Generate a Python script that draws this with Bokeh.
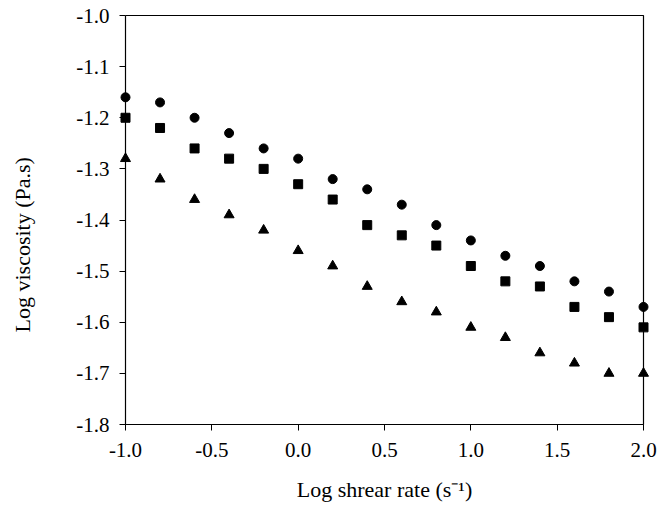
from bokeh.plotting import figure
from bokeh.models import FixedTicker, NumeralTickFormatter, Range1d
from bokeh.embed import file_html
from bokeh.resources import INLINE

# Log shear rate (s^-1)
log_shear = [-1.0, -0.8, -0.6, -0.4, -0.2, 0.0, 0.2, 0.4, 0.6, 0.8,
             1.0, 1.2, 1.4, 1.6, 1.8, 2.0]

# Log viscosity (Pa.s) for the three samples
visc_circle = [-1.16, -1.17, -1.20, -1.23, -1.26, -1.28, -1.32, -1.34, -1.37, -1.41,
               -1.44, -1.47, -1.49, -1.52, -1.54, -1.57]
visc_square = [-1.20, -1.22, -1.26, -1.28, -1.30, -1.33, -1.36, -1.41, -1.43, -1.45,
               -1.49, -1.52, -1.53, -1.57, -1.59, -1.61]
visc_triangle = [-1.28, -1.32, -1.36, -1.39, -1.42, -1.46, -1.49, -1.53, -1.56, -1.58,
                 -1.61, -1.63, -1.66, -1.68, -1.70, -1.70]

x_ticks = [-1.0, -0.5, 0.0, 0.5, 1.0, 1.5, 2.0]
y_ticks = [-1.8, -1.7, -1.6, -1.5, -1.4, -1.3, -1.2, -1.1, -1.0]

X_MIN, X_MAX = -1.0, 2.0
Y_MIN, Y_MAX = -1.8, -1.0
# the frame reaches one tick length past the plot box, so that edge markers
# are not cut off; the ticks then run inward from the frame edge to the box
TICK = 6
X_PAD = TICK * (X_MAX - X_MIN) / 518
Y_PAD = TICK * (Y_MAX - Y_MIN) / 409

FONT = "Liberation Serif"

p = figure(width=657, height=507, output_backend="svg", toolbar_location=None,
           x_range=Range1d(X_MIN - X_PAD, X_MAX + X_PAD),
           y_range=Range1d(Y_MIN - Y_PAD, Y_MAX + Y_PAD),
           min_border_left=119, min_border_right=8, min_border_top=9,
           min_border_bottom=77)

p.xgrid.visible = False
p.ygrid.visible = False
p.outline_line_color = None
p.background_fill_color = "white"
p.border_fill_color = "white"

# plot box
p.line([X_MIN, X_MAX, X_MAX, X_MIN, X_MIN], [Y_MAX, Y_MAX, Y_MIN, Y_MIN, Y_MAX],
       line_color="black", line_width=1.2)

p.scatter(log_shear, visc_circle, marker="circle", size=9,
          fill_color="black", line_color="black")
p.scatter(log_shear, visc_square, marker="square", size=9,
          fill_color="black", line_color="black")
p.scatter(log_shear, visc_triangle, marker="triangle", size=10,
          fill_color="black", line_color="black")

p.xaxis.ticker = FixedTicker(ticks=x_ticks)
p.yaxis.ticker = FixedTicker(ticks=y_ticks)
p.xaxis.formatter = NumeralTickFormatter(format="0.0")
p.yaxis.formatter = NumeralTickFormatter(format="0.0")

for ax in (p.xaxis, p.yaxis):
    ax.axis_line_color = None
    ax.major_tick_line_color = "black"
    ax.major_tick_in = TICK
    ax.major_tick_out = 0
    ax.minor_tick_line_color = None
    ax.major_label_text_font = FONT
    ax.major_label_text_font_size = "21px"
    ax.major_label_text_color = "black"
    ax.axis_label_text_font = FONT
    ax.axis_label_text_font_size = "22px"
    ax.axis_label_text_font_style = "normal"
    ax.axis_label_text_color = "black"

p.xaxis.axis_label = "Log shrear rate (s\u207b\u00b9)"
# trailing no-break spaces push the vertical title a little below the middle
p.yaxis.axis_label = "Log viscosity (Pa.s)" + "\u00a0" * 9
p.xaxis.major_label_standoff = 12
p.yaxis.major_label_standoff = 10
p.xaxis.axis_label_standoff = 17
p.yaxis.axis_label_standoff = 38

open("out.html", "w").write(file_html(p, INLINE))
